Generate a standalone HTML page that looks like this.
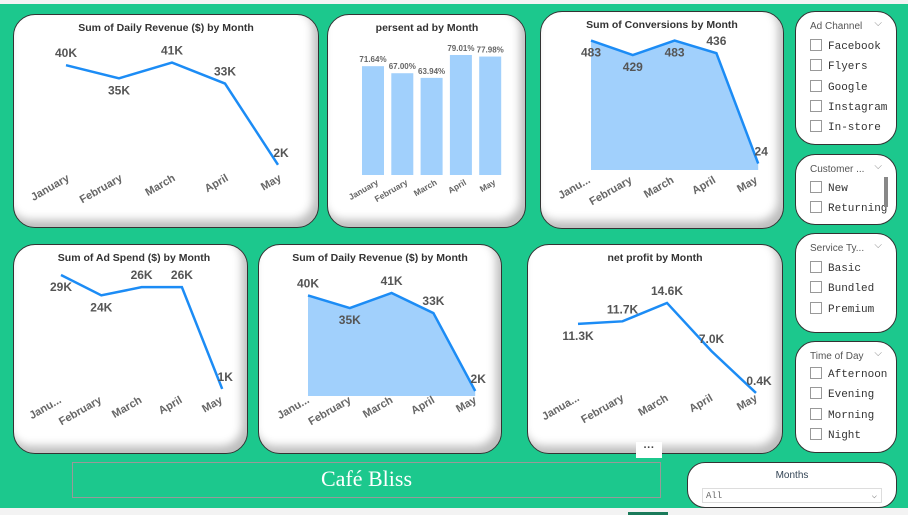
<!DOCTYPE html>
<html><head><meta charset="utf-8"><style>
body{margin:0;width:908px;height:515px;overflow:hidden;background:#1cc88d;font-family:"Liberation Sans",sans-serif;position:relative}
.p{position:absolute;background:#fff;border:1px solid #333;border-radius:22px;box-shadow:inset -5px -7px 9px #bdbdbd;box-sizing:border-box}
.s{position:absolute;background:#fff;border:1px solid #333;border-radius:20px;box-sizing:border-box;font-size:10px;color:#444}
.s .h{position:absolute;left:14px;top:9px;font-size:10px;color:#555}
.s .c{position:absolute;right:14px;top:6px;color:#888;font-size:10px}
.it{position:absolute;left:14px;font-family:"Liberation Mono",monospace;font-size:11px;color:#333}
.it i{display:inline-block;width:10px;height:10px;border:1px solid #999;vertical-align:-2px;margin-right:6px}
svg{position:absolute;left:0;top:0}
</style></head><body>
<div style="position:absolute;left:0;top:0;width:908px;height:4px;background:#f3f3f3"></div>
<div style="position:absolute;left:0;top:508px;width:908px;height:7px;background:#f3f3f3"><div style="position:absolute;left:628px;top:4px;width:40px;height:3px;background:#1a7a5a"></div></div>
<div class="p" style="left:13px;top:14px;width:306px;height:214px"></div>
<div class="p" style="left:327px;top:14px;width:199px;height:214px"></div>
<div class="p" style="left:540px;top:11px;width:244px;height:218px"></div>
<div class="p" style="left:13px;top:244px;width:235px;height:210px"></div>
<div class="p" style="left:258px;top:244px;width:244px;height:210px"></div>
<div class="p" style="left:527px;top:244px;width:256px;height:210px"></div>
<div style="position:absolute;left:636px;top:442px;width:26px;height:16px;background:#fff;font-size:11px;text-align:center;color:#444;font-weight:bold">···</div>

<div class="s" style="left:795px;top:11px;width:102px;height:134px"><div class="h">Ad Channel</div><div class="c">⌵</div>
<div class="it" style="top:27px"><i></i>Facebook</div>
<div class="it" style="top:47px"><i></i>Flyers</div>
<div class="it" style="top:68px"><i></i>Google</div>
<div class="it" style="top:88px"><i></i>Instagram</div>
<div class="it" style="top:108px"><i></i>In-store</div></div>
<div class="s" style="left:795px;top:154px;width:102px;height:71px"><div class="h">Customer ...</div><div class="c">⌵</div>
<div class="it" style="top:26px"><i></i>New</div>
<div class="it" style="top:46px"><i></i>Returning</div>
<div style="position:absolute;left:88px;top:22px;width:4px;height:30px;background:#888"></div></div>
<div class="s" style="left:795px;top:233px;width:102px;height:100px"><div class="h">Service Ty...</div><div class="c">⌵</div>
<div class="it" style="top:27px"><i></i>Basic</div>
<div class="it" style="top:47px"><i></i>Bundled</div>
<div class="it" style="top:68px"><i></i>Premium</div></div>
<div class="s" style="left:795px;top:341px;width:102px;height:112px"><div class="h">Time of Day</div><div class="c">⌵</div>
<div class="it" style="top:25px"><i></i>Afternoon</div>
<div class="it" style="top:45px"><i></i>Evening</div>
<div class="it" style="top:66px"><i></i>Morning</div>
<div class="it" style="top:86px"><i></i>Night</div></div>

<div style="position:absolute;left:72px;top:462px;width:589px;height:36px;border:1px solid #999;box-sizing:border-box;color:#fff;font-family:'Liberation Serif',serif;font-size:22px;text-align:center;line-height:32px">Café Bliss</div>
<div class="s" style="left:687px;top:462px;width:210px;height:46px;border-radius:18px"><div style="position:absolute;left:0;width:100%;top:7px;text-align:center;color:#345;font-size:10px">Months</div>
<div style="position:absolute;left:14px;top:25px;width:180px;height:15px;border:1px solid #ddd;font-family:'Liberation Mono',monospace;font-size:9px;color:#666;line-height:15px;padding-left:3px;box-sizing:border-box">All<span style="position:absolute;right:4px;color:#888">⌵</span></div></div>

<svg id="ch" width="908" height="515"></svg>
<script>
const months=["January","February","March","April","May"];
const monthsShortA=["Janu...","February","March","April","May"];
const monthsShortB=["Janua...","February","March","April","May"];
const revenue=[40,35,41,33,2];
const revenueLbl=["40K","35K","41K","33K","2K"];
const pctAd=[71.64,67.00,63.94,79.01,77.98];
const conversions=[483,429,483,436,24];
const adSpend=[29,24,26,26,1];
const adSpendLbl=["29K","24K","26K","26K","1K"];
const netProfit=[11.3,11.7,14.6,7.0,0.4];
const netProfitLbl=["11.3K","11.7K","14.6K","7.0K","0.4K"];

const svg=document.getElementById('ch');const NS='http://www.w3.org/2000/svg';
function mk(t,a,txt){const e=document.createElementNS(NS,t);for(const k in a)e.setAttribute(k,a[k]);if(txt!==undefined)e.textContent=txt;svg.appendChild(e);return e;}
function title(x,y,t,n){const e=mk('text',{x:x,y:y,'text-anchor':'middle','font-size':'10.5','font-weight':'bold',fill:'#333'},t);

}
function xlabels(cfg,labels,ly){labels.forEach((l,i)=>{const x=cfg.x0+i*cfg.dx;const e=mk('text',{x:x,y:ly,'text-anchor':'end','font-size':'11','font-weight':'bold',fill:'#666',transform:`rotate(-30 ${x} ${ly})`},l);

});}
function line(cfg,vals,lbls,pos,area,name){
 const X=i=>cfg.x0+i*cfg.dx, Y=v=>cfg.base-v*cfg.k;
 const pts=vals.map((v,i)=>X(i)+','+Y(v)).join(' ');
 if(area){const a=mk('polygon',{points:X(0)+','+cfg.base+' '+pts+' '+X(vals.length-1)+','+cfg.base,fill:'#a1d0fc'});
 
 }
 const p=mk('polyline',{points:pts,fill:'none',stroke:'#1c8cf5','stroke-width':'2.5'});
 
 
 vals.forEach((v,i)=>{const dy=pos[i]==='b'?16:-8;const t=mk('text',{x:X(i)+(i===vals.length-1?3:0),y:Y(v)+dy,'text-anchor':'middle','font-size':'12','font-weight':'bold',fill:'#555'},lbls[i]);
 
 });
}
// chart 1
title(166,31,'Sum of Daily Revenue ($) by Month','revenue-line-title');
const c1={x0:66,dx:53,base:170,k:2.62};
line(c1,revenue,revenueLbl,['a','b','a','a','a'],false,'revenue');
xlabels({x0:70,dx:53},months,180);
// chart 2 bars
title(427,31,'persent ad by Month','percent-ad-title');
const c2={x0:373,dx:29.3,base:175,k:1.519,w:22};
pctAd.forEach((v,i)=>{const x=c2.x0+i*c2.dx,h=v*c2.k;
 const r=mk('rect',{x:x-c2.w/2,y:c2.base-h,width:c2.w,height:h,fill:'#a1d0fc'});
 
 
 const t=mk('text',{x:x,y:c2.base-h-4,'text-anchor':'middle','font-size':'8','font-weight':'bold',fill:'#666'},v.toFixed(2)+'%');
 
 });
const c2l=mk('g',{});
months.forEach((l,i)=>{const x=c2.x0+i*c2.dx+6,ly=184;const e=mk('text',{x:x,y:ly,'text-anchor':'end','font-size':'8.5','font-weight':'bold',fill:'#666',transform:`rotate(-30 ${x} ${ly})`},l);
 
 });
// chart 3
title(662,28,'Sum of Conversions by Month','conversions-title');
const c3={x0:591,dx:41.8,base:170,k:0.268};
line(c3,conversions,conversions.map(String),['b','b','b','a','a'],true,'conversions');
xlabels({x0:591,dx:41.8},monthsShortA,182);
// chart 4
title(134,261,'Sum of Ad Spend ($) by Month','ad-spend-title');
const c4={x0:61,dx:40.3,base:393,k:4.07};
line(c4,adSpend,adSpendLbl,['b','b','a','a','a'],false,'ad-spend');
xlabels({x0:62,dx:40.3},monthsShortA,402);
// chart 5
title(380,261,'Sum of Daily Revenue ($) by Month','revenue-area-title');
const c5={x0:308,dx:41.8,base:396,k:2.513};
line(c5,revenue,revenueLbl,['a','b','a','a','a'],true,'revenue-area');
xlabels({x0:310,dx:41.8},monthsShortA,402);
// chart 6
title(655,261,'net profit by Month','net-profit-title');
const c6={x0:578,dx:44.5,base:395.5,k:6.34};
line(c6,netProfit,netProfitLbl,['b','a','a','a','a'],false,'net-profit');
xlabels({x0:580,dx:44.5},monthsShortB,400);
</script>
</body></html>
